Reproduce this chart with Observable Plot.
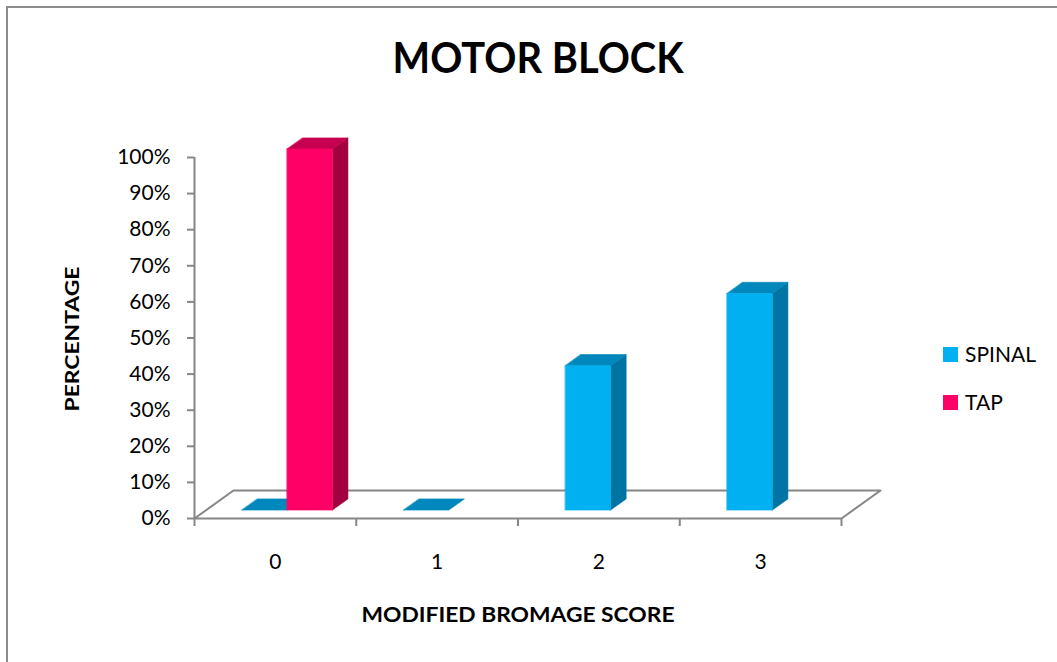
<!DOCTYPE html>
<html>
<head>
<meta charset="utf-8">
<script src="https://cdn.jsdelivr.net/npm/d3@7"></script>
<script src="https://cdn.jsdelivr.net/npm/@observablehq/plot@0.6"></script>
<style>
  body { margin: 0; background: #fff; }
  #chart { position: relative; width: 1057px; height: 662px; overflow: hidden; background: #fff; }
  #chart svg { position: absolute; left: 0; top: 0; }
  #frame { position: absolute; left: 6px; top: 6px; width: 1200px; height: 800px; border: 2px solid #8c8c8c; box-sizing: border-box; }
</style>
</head>
<body>
<div id="chart"><div id="frame"></div></div>
<script>
// Modified Bromage score distribution, percent of patients per group
const categories = [0, 1, 2, 3];
const seriesNames = ["SPINAL", "TAP"];
const spinal = [0, 0, 40, 60];
const tap = [100, null, null, null];
const yTicks = [0, 10, 20, 30, 40, 50, 60, 70, 80, 90, 100];
const categoryBounds = [-0.5, 0.5, 1.5, 2.5, 3.5];

const palette = {
  SPINAL: { front: "#00B0F0", side: "#0074A2", top: "#0088BC" },
  TAP:    { front: "#FF0066", side: "#A2003F", top: "#C6004F" }
};

// Oblique depth of the floor in data units (x: category, y: percent)
const depth = { x: 0.241, y: 7.76 };
// Columns occupy this slice of the floor depth
const slab = [0.3, 0.7];
const barWidth = 0.28;

const series = { SPINAL: spinal, TAP: tap };
const rows = [];
categories.forEach((c, i) => {
  seriesNames.forEach((s, j) => {
    const v = series[s][i];
    if (v != null) rows.push({ c, s, v, x1: c + (j - 1) * barWidth });
  });
});

// Build side, top and front faces of every column as closed polygons
const faces = [];
rows.forEach((r, k) => {
  const x1 = r.x1, x2 = r.x1 + barWidth;
  const fx = slab[0] * depth.x, fy = slab[0] * depth.y;
  const bx = slab[1] * depth.x, by = slab[1] * depth.y;
  const col = palette[r.s];
  const poly = (name, color, pts) =>
    pts.forEach(([x, y]) => faces.push({ key: `${k}-${name}`, color, x, y }));
  if (r.v > 0) poly("side", col.side, [[x2 + fx, fy], [x2 + bx, by], [x2 + bx, r.v + by], [x2 + fx, r.v + fy]]);
  poly("top", col.top, [[x1 + fx, r.v + fy], [x2 + fx, r.v + fy], [x2 + bx, r.v + by], [x1 + bx, r.v + by]]);
  if (r.v > 0) poly("front", col.front, [[x1 + fx, fy], [x2 + fx, fy], [x2 + fx, r.v + fy], [x1 + fx, r.v + fy]]);
});

const x0 = categoryBounds[0], xN = categoryBounds[categoryBounds.length - 1];
const floor = [[x0, 0], [xN, 0], [xN + depth.x, depth.y], [x0 + depth.x, depth.y]]
  .map(([x, y]) => ({ x, y }));

const axisGrey = "#868686";

const plot = Plot.plot({
  width: 1057,
  height: 662,
  marginLeft: 194,
  marginRight: 216,
  marginTop: 157,
  marginBottom: 144,
  style: { fontFamily: "Lato, sans-serif", fontSize: "20px", color: "#000", background: "transparent", overflow: "visible" },
  x: { type: "linear", domain: [x0, xN] },
  y: { domain: [0, 100] },
  color: { type: "identity" },
  marks: [
    Plot.line(floor, { x: "x", y: "y", curve: "linear-closed", stroke: axisGrey, strokeWidth: 2 }),
    Plot.ruleX([x0], { y1: 0, y2: 100, stroke: axisGrey, strokeWidth: 2 }),
    Plot.axisY({ ticks: yTicks, tickFormat: d => `${d}%`, tickSize: 7, tickPadding: 17, fontSize: 21, stroke: axisGrey, strokeWidth: 2, fill: "#000", label: null }),
    Plot.axisX({ ticks: categoryBounds, tickFormat: () => "", tickSize: 8, stroke: axisGrey, strokeWidth: 2, label: null }),
    Plot.axisX({ ticks: categories, tickFormat: d => String(d), tickSize: 0, tickPadding: 36, fontSize: 21, fill: "#000", label: null }),
    Plot.line(faces, { x: "x", y: "y", z: "key", fill: "color", stroke: "color", strokeWidth: 0.6, curve: "linear-closed" })
  ]
});

const svg = d3.select(plot);

// Titles
svg.append("text")
  .attr("x", 538).attr("y", 73)
  .attr("text-anchor", "middle")
  .attr("font-family", "Lato, sans-serif").attr("font-weight", 700).attr("font-size", 42)
  .attr("textLength", 291).attr("lengthAdjust", "spacingAndGlyphs")
  .attr("fill", "#000")
  .text("MOTOR BLOCK");

svg.append("text")
  .attr("x", 518).attr("y", 622)
  .attr("text-anchor", "middle")
  .attr("font-family", "Lato, sans-serif").attr("font-weight", 700).attr("font-size", 21)
  .attr("textLength", 313).attr("lengthAdjust", "spacingAndGlyphs")
  .attr("fill", "#000")
  .text("MODIFIED BROMAGE SCORE");

svg.append("text")
  .attr("transform", "translate(79,339) rotate(-90)")
  .attr("text-anchor", "middle")
  .attr("font-family", "Lato, sans-serif").attr("font-weight", 700).attr("font-size", 19.5)
  .attr("textLength", 145).attr("lengthAdjust", "spacingAndGlyphs")
  .attr("fill", "#000")
  .text("PERCENTAGE");

// Legend
const legend = svg.append("g")
  .attr("font-family", "Lato, sans-serif").attr("font-size", 21).attr("text-anchor", "start");
seriesNames.forEach((s, i) => {
  const g = legend.append("g").attr("transform", `translate(943,${347 + i * 48})`);
  g.append("rect").attr("width", 15).attr("height", 15).attr("fill", palette[s].front);
  g.append("text").attr("x", 22).attr("y", 15).attr("text-anchor", "start").attr("fill", "#000").text(s);
});

document.getElementById("chart").appendChild(plot);
</script>
</body>
</html>
